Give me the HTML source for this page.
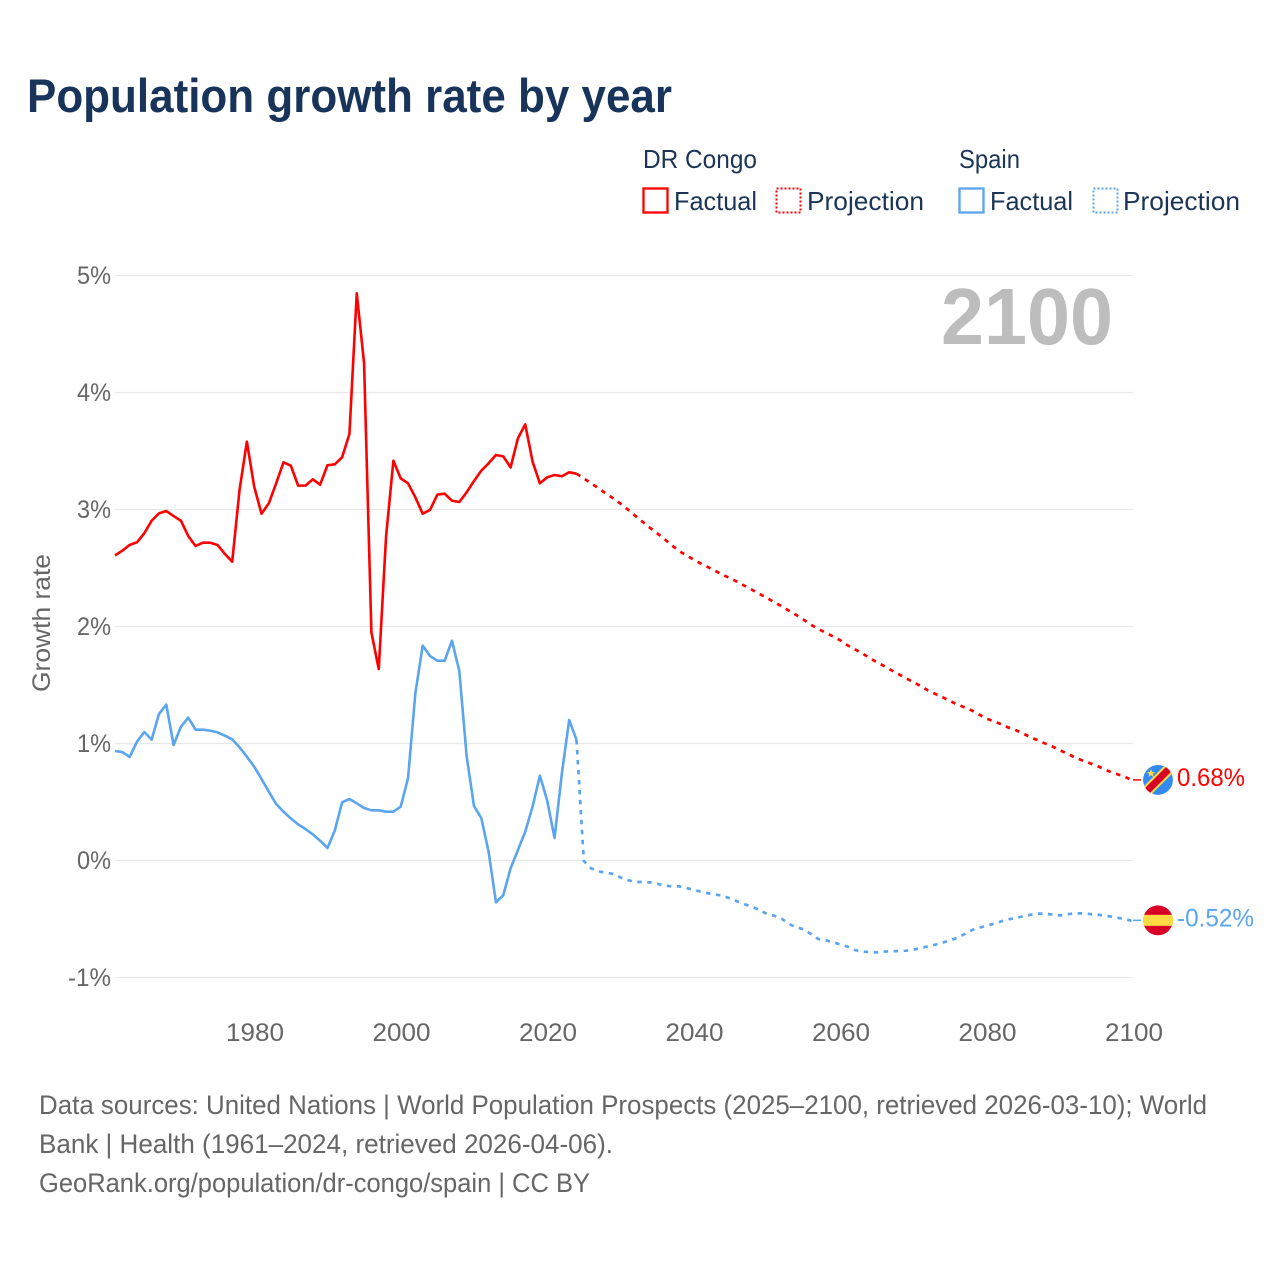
<!DOCTYPE html>
<html lang="en">
<head>
<meta charset="utf-8">
<title>Population growth rate by year</title>
<style>
html,body{margin:0;padding:0;background:#fff;}
svg{display:block;font-family:"Liberation Sans",sans-serif;}
</style>
</head>
<body>
<svg id="chart" xmlns="http://www.w3.org/2000/svg" width="1280" height="1280" viewBox="0 0 1280 1280">
  <defs>
    <clipPath id="flag-clip"><circle cx="0" cy="0" r="15"/></clipPath>
  </defs>
  <rect x="0" y="0" width="1280" height="1280" fill="#fff"/>
  <text x="27" y="112" font-size="47" font-weight="700" fill="#18345a" textLength="645" lengthAdjust="spacingAndGlyphs">Population growth rate by year</text>

  <g font-size="26" fill="#1b3556">
    <text x="643" y="168" textLength="114" lengthAdjust="spacingAndGlyphs">DR Congo</text>
    <text x="959" y="168" textLength="61" lengthAdjust="spacingAndGlyphs">Spain</text>
    <rect x="643.5" y="188.5" width="24" height="24" fill="none" stroke="#ff0000" stroke-width="2.3"/>
    <text x="674" y="210" textLength="83" lengthAdjust="spacingAndGlyphs">Factual</text>
    <rect x="776.5" y="188.5" width="24" height="24" fill="none" stroke="#ff0000" stroke-width="2" stroke-dasharray="2 2"/>
    <text x="807" y="210" textLength="117" lengthAdjust="spacingAndGlyphs">Projection</text>
    <rect x="959.5" y="188.5" width="24" height="24" fill="none" stroke="#5aa5ee" stroke-width="2.3"/>
    <text x="990" y="210" textLength="83" lengthAdjust="spacingAndGlyphs">Factual</text>
    <rect x="1093.5" y="188.5" width="24" height="24" fill="none" stroke="#5aa5ee" stroke-width="2" stroke-dasharray="2 2"/>
    <text x="1123" y="210" textLength="117" lengthAdjust="spacingAndGlyphs">Projection</text>
  </g>

  <text transform="translate(50,692) rotate(-90)" font-size="25" fill="#666" textLength="138" lengthAdjust="spacingAndGlyphs">Growth rate</text>
  <g id="grid"></g>
  <g id="y-ticks"></g>
  <g id="x-ticks"></g>

  <text x="941" y="344" font-size="80" font-weight="700" fill="#bdbdbd" textLength="172" lengthAdjust="spacingAndGlyphs">2100</text>

  <g id="series"></g>

  <g id="flag-dr-congo">
    <g clip-path="url(#flag-clip)">
      <circle cx="0" cy="0" r="15" fill="#338af3"/>
      <line x1="-17" y1="17" x2="17" y2="-17" stroke="#ffda44" stroke-width="11"/>
      <line x1="-17" y1="17" x2="17" y2="-17" stroke="#d80027" stroke-width="7"/>
      <polygon points="-7,-11 -5.8,-8 -2.8,-8 -5.2,-6 -4.4,-3 -7,-4.8 -9.6,-3 -8.8,-6 -11.2,-8 -8.2,-8" fill="#ffda44"/>
    </g>
  </g>
  <g id="flag-spain">
    <g clip-path="url(#flag-clip)">
      <circle cx="0" cy="0" r="15" fill="#d80027"/>
      <rect x="-15" y="-5.5" width="30" height="11" fill="#ffda44"/>
    </g>
  </g>
  <text id="label-dr-congo" x="1177" font-size="25" fill="#ff0000" textLength="68" lengthAdjust="spacingAndGlyphs"></text>
  <text id="label-spain" x="1177" font-size="25" fill="#5aa5ee" textLength="77" lengthAdjust="spacingAndGlyphs"></text>

  <g font-size="26.5" fill="#666">
    <text x="39" y="1114" textLength="1168" lengthAdjust="spacingAndGlyphs">Data sources: United Nations | World Population Prospects (2025–2100, retrieved 2026-03-10); World</text>
    <text x="39" y="1153" textLength="574" lengthAdjust="spacingAndGlyphs">Bank | Health (1961–2024, retrieved 2026-04-06).</text>
    <text x="39" y="1192" textLength="551" lengthAdjust="spacingAndGlyphs">GeoRank.org/population/dr-congo/spain | CC BY</text>
  </g>
</svg>
<script>
const xTickYears = [1980, 2000, 2020, 2040, 2060, 2080, 2100];
const yTickValues = [5, 4, 3, 2, 1, 0, -1];
const factualStartYear = 1961;
const projectionStartYear = 2025;

const drCongoFactual = [
  2.608,2.648,2.697,2.72,2.797,2.904,2.967,2.987,2.944,2.904,
  2.773,2.688,2.716,2.716,2.697,2.62,2.554,3.167,3.58,3.195,
  2.964,3.053,3.224,3.403,3.375,3.204,3.204,3.258,3.212,3.378,
  3.386,3.446,3.645,4.848,4.25,1.95,1.636,2.767,3.417,3.266,
  3.224,3.104,2.964,2.996,3.127,3.135,3.075,3.064,3.147,3.243,
  3.332,3.395,3.466,3.454,3.36,3.608,3.728,3.409,3.224,3.275,
  3.295,3.284,3.318,3.306
];
const drCongoProjection = [
  3.266,3.224,3.181,3.138,3.096,3.05,3.0,2.947,2.896,2.845,
  2.797,2.748,2.694,2.645,2.608,2.571,2.537,2.506,2.474,2.44,
  2.412,2.38,2.346,2.312,2.278,2.244,2.207,2.173,2.135,2.098,
  2.058,2.015,1.979,1.947,1.916,1.882,1.839,1.805,1.771,1.731,
  1.694,1.662,1.625,1.591,1.557,1.523,1.491,1.452,1.423,1.395,
  1.363,1.332,1.309,1.281,1.246,1.212,1.189,1.164,1.135,1.113,
  1.084,1.053,1.027,0.999,0.973,0.942,0.913,0.882,0.856,0.833,
  0.81,0.782,0.754,0.734,0.711,0.68
];
const spainFactual = [
  0.936,0.927,0.885,1.016,1.098,1.033,1.252,1.332,0.987,1.144,
  1.221,1.118,1.118,1.11,1.095,1.067,1.036,0.967,0.887,0.802,
  0.697,0.588,0.483,0.417,0.36,0.309,0.269,0.224,0.169,0.107,
  0.255,0.497,0.526,0.489,0.449,0.429,0.429,0.417,0.417,0.46,
  0.703,1.429,1.836,1.748,1.708,1.708,1.879,1.62,0.893,0.466,
  0.363,0.075,-0.357,-0.297,-0.067,0.09,0.246,0.46,0.725,0.511,
  0.192,0.745,1.201,1.03
];
const spainProjection = [
  -0.005,-0.067,-0.093,-0.104,-0.115,-0.144,-0.167,-0.184,-0.184,-0.187,
  -0.198,-0.215,-0.221,-0.221,-0.235,-0.252,-0.266,-0.281,-0.292,-0.301,
  -0.326,-0.352,-0.375,-0.397,-0.423,-0.457,-0.472,-0.497,-0.543,-0.571,
  -0.588,-0.628,-0.671,-0.682,-0.697,-0.717,-0.736,-0.765,-0.779,-0.782,
  -0.785,-0.779,-0.776,-0.774,-0.771,-0.762,-0.748,-0.734,-0.719,-0.702,
  -0.682,-0.66,-0.628,-0.594,-0.574,-0.557,-0.54,-0.52,-0.503,-0.489,
  -0.477,-0.463,-0.454,-0.454,-0.463,-0.469,-0.46,-0.452,-0.452,-0.457,
  -0.463,-0.469,-0.48,-0.491,-0.503,-0.52
];

const NS = 'http://www.w3.org/2000/svg';
function xScale(year) { return 115 + (year - 1961) * 7.3257; }
function yScale(value) { return 860.5 - value * 117; }
function make(tag, attrs, parent) {
  const el = document.createElementNS(NS, tag);
  for (const k in attrs) el.setAttribute(k, attrs[k]);
  parent.appendChild(el);
  return el;
}
function pathFrom(values, startYear) {
  return values.map(function (v, i) {
    return (i ? 'L' : 'M') + xScale(startYear + i).toFixed(2) + ' ' + yScale(v).toFixed(2);
  }).join(' ');
}

const grid = document.getElementById('grid');
const yTicks = document.getElementById('y-ticks');
yTickValues.forEach(function (v) {
  const line = make('line', { x1: 115, x2: 1133, y1: yScale(v), y2: yScale(v), stroke: '#e8e8e8', 'stroke-width': 1.2 }, grid);
  
  
  const label = make('text', { x: 111, y: yScale(v) + 8.5, 'text-anchor': 'end', 'font-size': 25, fill: '#666', textLength: v < 0 ? 43 : 34, lengthAdjust: 'spacingAndGlyphs' }, yTicks);
  
  
  label.textContent = v + '%';
});

const xTicks = document.getElementById('x-ticks');
xTickYears.forEach(function (year) {
  const label = make('text', { x: xScale(year) + 0.8, y: 1041, 'text-anchor': 'middle', 'font-size': 25, fill: '#666', textLength: 58, lengthAdjust: 'spacingAndGlyphs' }, xTicks);
  
  
  label.textContent = year;
});

const series = document.getElementById('series');
function drawSeries(factual, projection, color, names) {
  const solid = make('path', { d: pathFrom(factual, factualStartYear), fill: 'none', stroke: color, 'stroke-width': 2.6, 'stroke-linejoin': 'round' }, series);
  
  
  const lastFactual = factual[factual.length - 1];
  const joined = [lastFactual].concat(projection);
  const dashed = make('path', { d: pathFrom(joined, projectionStartYear - 1), fill: 'none', stroke: color, 'stroke-width': 2.7, 'stroke-dasharray': '4.5 5.5' }, series);
  
  
  const endValue = projection[projection.length - 1];
  const endY = yScale(endValue) - 1;
  const leader = make('line', { x1: 1133, x2: 1141, y1: endY, y2: endY, stroke: color, 'stroke-width': 1.5 }, series);
  
  
  const flag = document.getElementById(names.flag);
  flag.setAttribute('transform', 'translate(1158,' + endY + ')');
  const label = document.getElementById(names.label);
  label.setAttribute('y', endY + 6);
  label.textContent = endValue.toFixed(2) + '%';
}
drawSeries(drCongoFactual, drCongoProjection, '#ff0000', {
  factual: 'dr-congo-factual-line',
  projection: 'dr-congo-projection-line',
  leader: 'dr-congo-leader-line',
  flag: 'flag-dr-congo',
  label: 'label-dr-congo'
});
drawSeries(spainFactual, spainProjection, '#5aa5ee', {
  factual: 'spain-factual-line',
  projection: 'spain-projection-line',
  leader: 'spain-leader-line',
  flag: 'flag-spain',
  label: 'label-spain'
});
</script>
</body>
</html>
